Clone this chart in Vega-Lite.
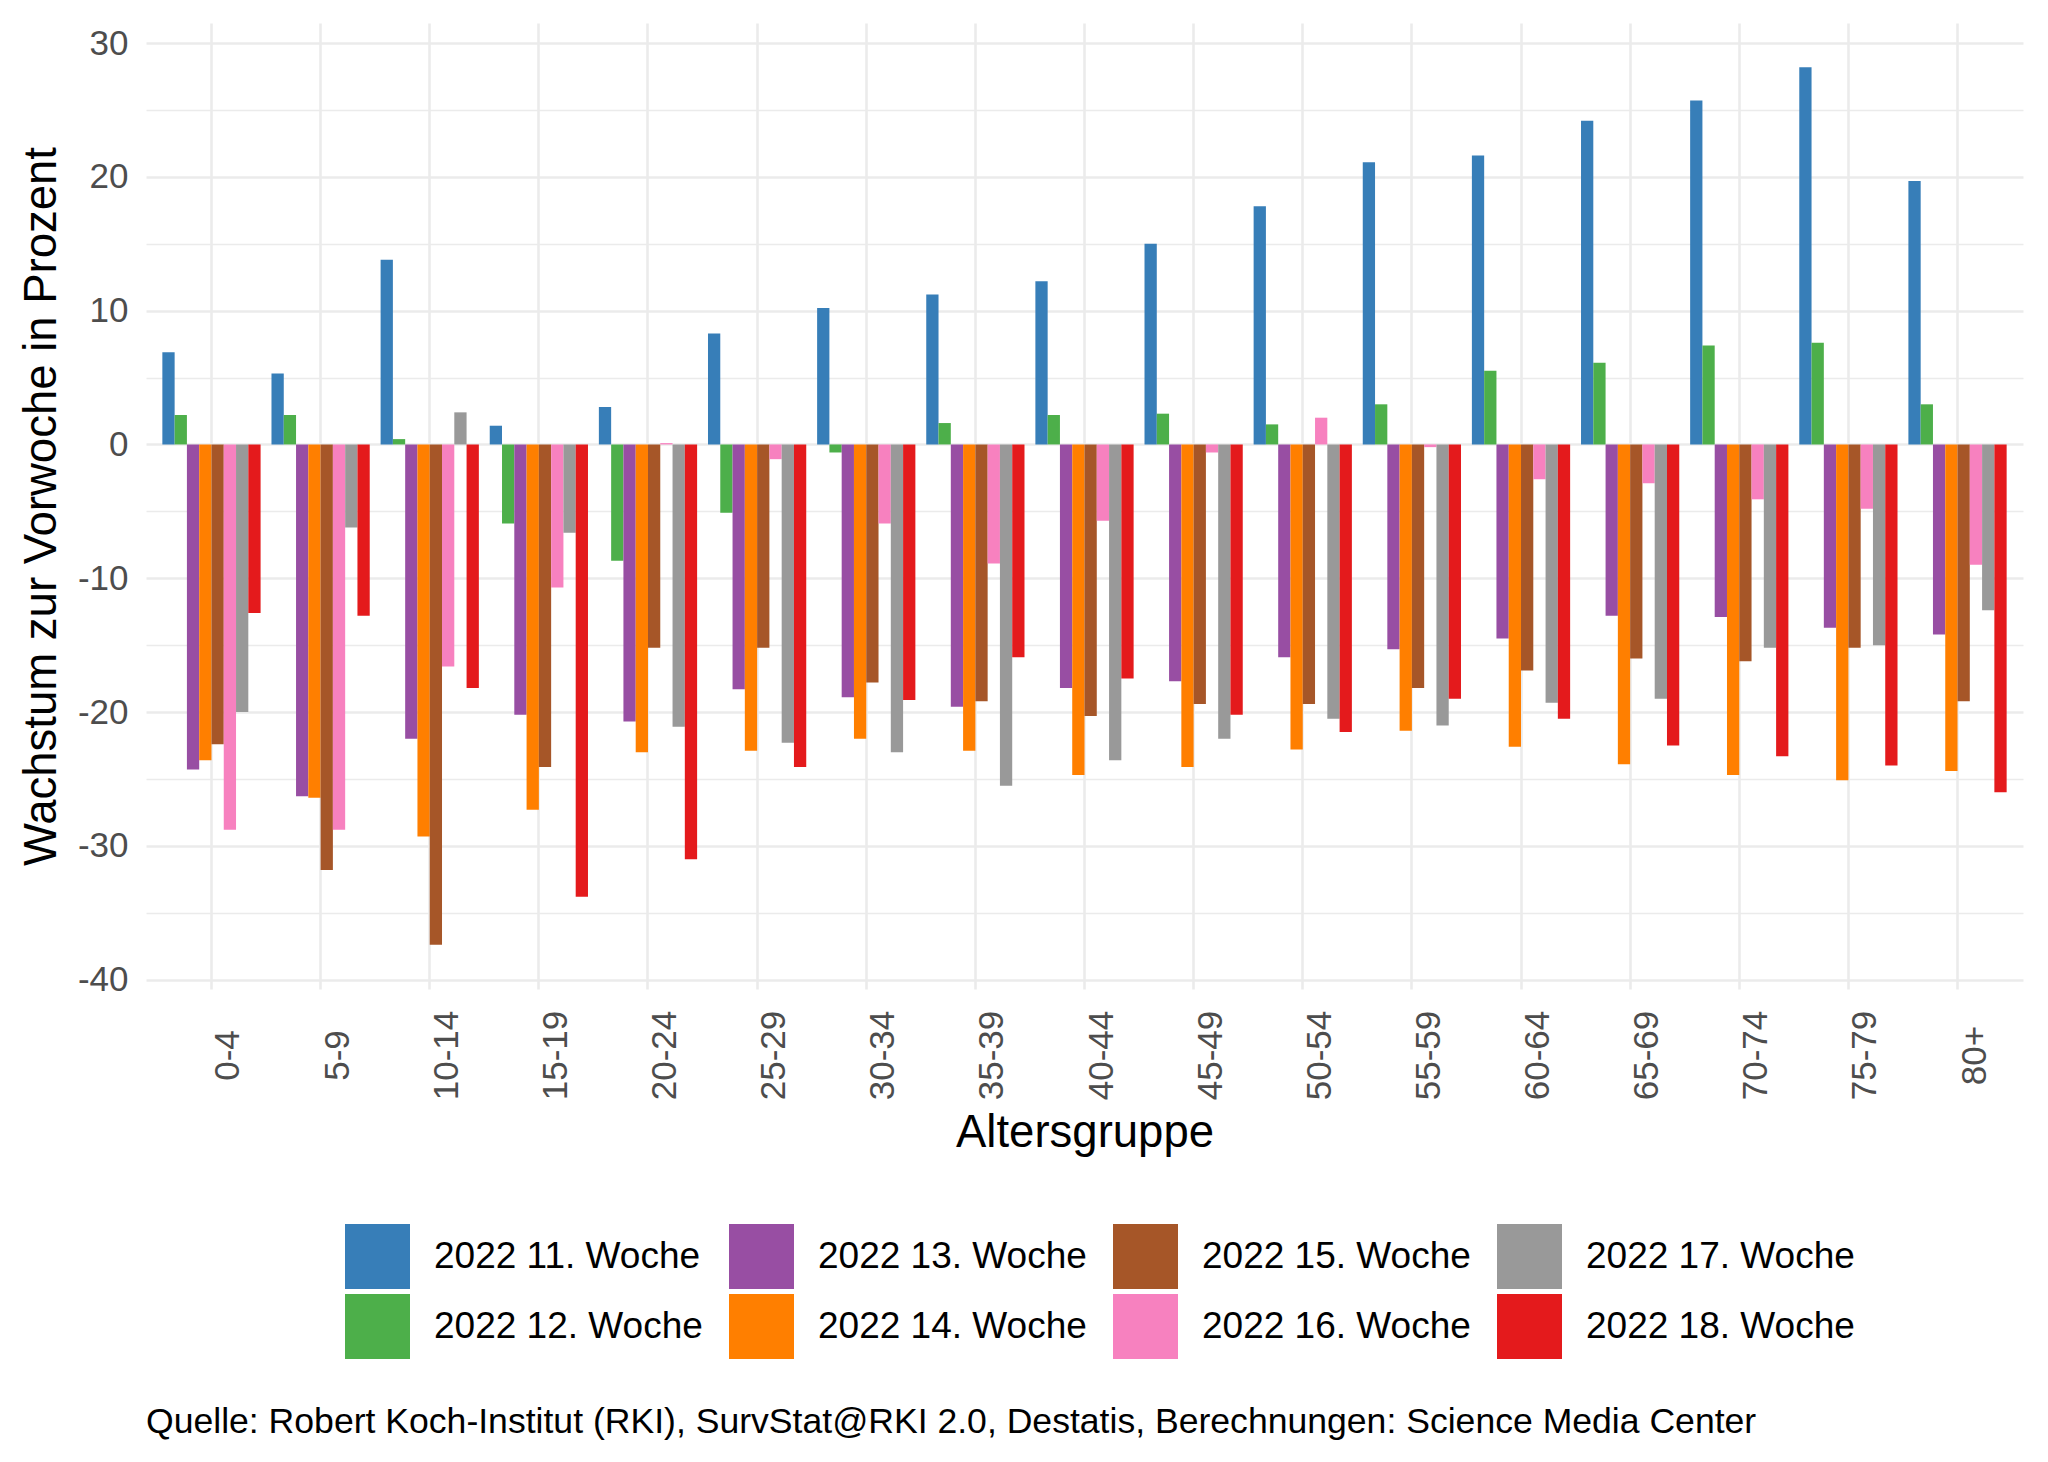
{
  "$schema": "https://vega.github.io/schema/vega-lite/v6.json",
  "width": 1877,
  "height": 966,
  "autosize": {"type": "none"},
  "padding": {"left": 146, "top": 23, "right": 25, "bottom": 473},
  "background": "white",
  "title": {
    "text": "Quelle: Robert Koch-Institut (RKI), SurvStat@RKI 2.0, Destatis, Berechnungen: Science Media Center",
    "orient": "bottom",
    "anchor": "start",
    "frame": "group",
    "fontSize": 35.6,
    "font": "Liberation Sans",
    "fontWeight": "normal",
    "color": "black",
    "offset": 46
  },
  "data": {
    "values": [
      {"g": "0-4", "w": "2022 11. Woche", "v": 6.9},
      {"g": "0-4", "w": "2022 12. Woche", "v": 2.2},
      {"g": "0-4", "w": "2022 13. Woche", "v": -24.3},
      {"g": "0-4", "w": "2022 14. Woche", "v": -23.6},
      {"g": "0-4", "w": "2022 15. Woche", "v": -22.4},
      {"g": "0-4", "w": "2022 16. Woche", "v": -28.8},
      {"g": "0-4", "w": "2022 17. Woche", "v": -20.0},
      {"g": "0-4", "w": "2022 18. Woche", "v": -12.6},
      {"g": "5-9", "w": "2022 11. Woche", "v": 5.3},
      {"g": "5-9", "w": "2022 12. Woche", "v": 2.2},
      {"g": "5-9", "w": "2022 13. Woche", "v": -26.3},
      {"g": "5-9", "w": "2022 14. Woche", "v": -26.4},
      {"g": "5-9", "w": "2022 15. Woche", "v": -31.8},
      {"g": "5-9", "w": "2022 16. Woche", "v": -28.8},
      {"g": "5-9", "w": "2022 17. Woche", "v": -6.2},
      {"g": "5-9", "w": "2022 18. Woche", "v": -12.8},
      {"g": "10-14", "w": "2022 11. Woche", "v": 13.8},
      {"g": "10-14", "w": "2022 12. Woche", "v": 0.4},
      {"g": "10-14", "w": "2022 13. Woche", "v": -22.0},
      {"g": "10-14", "w": "2022 14. Woche", "v": -29.3},
      {"g": "10-14", "w": "2022 15. Woche", "v": -37.4},
      {"g": "10-14", "w": "2022 16. Woche", "v": -16.6},
      {"g": "10-14", "w": "2022 17. Woche", "v": 2.4},
      {"g": "10-14", "w": "2022 18. Woche", "v": -18.2},
      {"g": "15-19", "w": "2022 11. Woche", "v": 1.4},
      {"g": "15-19", "w": "2022 12. Woche", "v": -5.9},
      {"g": "15-19", "w": "2022 13. Woche", "v": -20.2},
      {"g": "15-19", "w": "2022 14. Woche", "v": -27.3},
      {"g": "15-19", "w": "2022 15. Woche", "v": -24.1},
      {"g": "15-19", "w": "2022 16. Woche", "v": -10.7},
      {"g": "15-19", "w": "2022 17. Woche", "v": -6.6},
      {"g": "15-19", "w": "2022 18. Woche", "v": -33.8},
      {"g": "20-24", "w": "2022 11. Woche", "v": 2.8},
      {"g": "20-24", "w": "2022 12. Woche", "v": -8.7},
      {"g": "20-24", "w": "2022 13. Woche", "v": -20.7},
      {"g": "20-24", "w": "2022 14. Woche", "v": -23.0},
      {"g": "20-24", "w": "2022 15. Woche", "v": -15.2},
      {"g": "20-24", "w": "2022 16. Woche", "v": 0.1},
      {"g": "20-24", "w": "2022 17. Woche", "v": -21.1},
      {"g": "20-24", "w": "2022 18. Woche", "v": -31.0},
      {"g": "25-29", "w": "2022 11. Woche", "v": 8.3},
      {"g": "25-29", "w": "2022 12. Woche", "v": -5.1},
      {"g": "25-29", "w": "2022 13. Woche", "v": -18.3},
      {"g": "25-29", "w": "2022 14. Woche", "v": -22.9},
      {"g": "25-29", "w": "2022 15. Woche", "v": -15.2},
      {"g": "25-29", "w": "2022 16. Woche", "v": -1.1},
      {"g": "25-29", "w": "2022 17. Woche", "v": -22.3},
      {"g": "25-29", "w": "2022 18. Woche", "v": -24.1},
      {"g": "30-34", "w": "2022 11. Woche", "v": 10.2},
      {"g": "30-34", "w": "2022 12. Woche", "v": -0.6},
      {"g": "30-34", "w": "2022 13. Woche", "v": -18.9},
      {"g": "30-34", "w": "2022 14. Woche", "v": -22.0},
      {"g": "30-34", "w": "2022 15. Woche", "v": -17.8},
      {"g": "30-34", "w": "2022 16. Woche", "v": -5.9},
      {"g": "30-34", "w": "2022 17. Woche", "v": -23.0},
      {"g": "30-34", "w": "2022 18. Woche", "v": -19.1},
      {"g": "35-39", "w": "2022 11. Woche", "v": 11.2},
      {"g": "35-39", "w": "2022 12. Woche", "v": 1.6},
      {"g": "35-39", "w": "2022 13. Woche", "v": -19.6},
      {"g": "35-39", "w": "2022 14. Woche", "v": -22.9},
      {"g": "35-39", "w": "2022 15. Woche", "v": -19.2},
      {"g": "35-39", "w": "2022 16. Woche", "v": -8.9},
      {"g": "35-39", "w": "2022 17. Woche", "v": -25.5},
      {"g": "35-39", "w": "2022 18. Woche", "v": -15.9},
      {"g": "40-44", "w": "2022 11. Woche", "v": 12.2},
      {"g": "40-44", "w": "2022 12. Woche", "v": 2.2},
      {"g": "40-44", "w": "2022 13. Woche", "v": -18.2},
      {"g": "40-44", "w": "2022 14. Woche", "v": -24.7},
      {"g": "40-44", "w": "2022 15. Woche", "v": -20.3},
      {"g": "40-44", "w": "2022 16. Woche", "v": -5.7},
      {"g": "40-44", "w": "2022 17. Woche", "v": -23.6},
      {"g": "40-44", "w": "2022 18. Woche", "v": -17.5},
      {"g": "45-49", "w": "2022 11. Woche", "v": 15.0},
      {"g": "45-49", "w": "2022 12. Woche", "v": 2.3},
      {"g": "45-49", "w": "2022 13. Woche", "v": -17.7},
      {"g": "45-49", "w": "2022 14. Woche", "v": -24.1},
      {"g": "45-49", "w": "2022 15. Woche", "v": -19.4},
      {"g": "45-49", "w": "2022 16. Woche", "v": -0.6},
      {"g": "45-49", "w": "2022 17. Woche", "v": -22.0},
      {"g": "45-49", "w": "2022 18. Woche", "v": -20.2},
      {"g": "50-54", "w": "2022 11. Woche", "v": 17.8},
      {"g": "50-54", "w": "2022 12. Woche", "v": 1.5},
      {"g": "50-54", "w": "2022 13. Woche", "v": -15.9},
      {"g": "50-54", "w": "2022 14. Woche", "v": -22.8},
      {"g": "50-54", "w": "2022 15. Woche", "v": -19.4},
      {"g": "50-54", "w": "2022 16. Woche", "v": 2.0},
      {"g": "50-54", "w": "2022 17. Woche", "v": -20.5},
      {"g": "50-54", "w": "2022 18. Woche", "v": -21.5},
      {"g": "55-59", "w": "2022 11. Woche", "v": 21.1},
      {"g": "55-59", "w": "2022 12. Woche", "v": 3.0},
      {"g": "55-59", "w": "2022 13. Woche", "v": -15.3},
      {"g": "55-59", "w": "2022 14. Woche", "v": -21.4},
      {"g": "55-59", "w": "2022 15. Woche", "v": -18.2},
      {"g": "55-59", "w": "2022 16. Woche", "v": -0.2},
      {"g": "55-59", "w": "2022 17. Woche", "v": -21.0},
      {"g": "55-59", "w": "2022 18. Woche", "v": -19.0},
      {"g": "60-64", "w": "2022 11. Woche", "v": 21.6},
      {"g": "60-64", "w": "2022 12. Woche", "v": 5.5},
      {"g": "60-64", "w": "2022 13. Woche", "v": -14.5},
      {"g": "60-64", "w": "2022 14. Woche", "v": -22.6},
      {"g": "60-64", "w": "2022 15. Woche", "v": -16.9},
      {"g": "60-64", "w": "2022 16. Woche", "v": -2.6},
      {"g": "60-64", "w": "2022 17. Woche", "v": -19.3},
      {"g": "60-64", "w": "2022 18. Woche", "v": -20.5},
      {"g": "65-69", "w": "2022 11. Woche", "v": 24.2},
      {"g": "65-69", "w": "2022 12. Woche", "v": 6.1},
      {"g": "65-69", "w": "2022 13. Woche", "v": -12.8},
      {"g": "65-69", "w": "2022 14. Woche", "v": -23.9},
      {"g": "65-69", "w": "2022 15. Woche", "v": -16.0},
      {"g": "65-69", "w": "2022 16. Woche", "v": -2.9},
      {"g": "65-69", "w": "2022 17. Woche", "v": -19.0},
      {"g": "65-69", "w": "2022 18. Woche", "v": -22.5},
      {"g": "70-74", "w": "2022 11. Woche", "v": 25.7},
      {"g": "70-74", "w": "2022 12. Woche", "v": 7.4},
      {"g": "70-74", "w": "2022 13. Woche", "v": -12.9},
      {"g": "70-74", "w": "2022 14. Woche", "v": -24.7},
      {"g": "70-74", "w": "2022 15. Woche", "v": -16.2},
      {"g": "70-74", "w": "2022 16. Woche", "v": -4.1},
      {"g": "70-74", "w": "2022 17. Woche", "v": -15.2},
      {"g": "70-74", "w": "2022 18. Woche", "v": -23.3},
      {"g": "75-79", "w": "2022 11. Woche", "v": 28.2},
      {"g": "75-79", "w": "2022 12. Woche", "v": 7.6},
      {"g": "75-79", "w": "2022 13. Woche", "v": -13.7},
      {"g": "75-79", "w": "2022 14. Woche", "v": -25.1},
      {"g": "75-79", "w": "2022 15. Woche", "v": -15.2},
      {"g": "75-79", "w": "2022 16. Woche", "v": -4.8},
      {"g": "75-79", "w": "2022 17. Woche", "v": -15.0},
      {"g": "75-79", "w": "2022 18. Woche", "v": -24.0},
      {"g": "80+", "w": "2022 11. Woche", "v": 19.7},
      {"g": "80+", "w": "2022 12. Woche", "v": 3.0},
      {"g": "80+", "w": "2022 13. Woche", "v": -14.2},
      {"g": "80+", "w": "2022 14. Woche", "v": -24.4},
      {"g": "80+", "w": "2022 15. Woche", "v": -19.2},
      {"g": "80+", "w": "2022 16. Woche", "v": -9.0},
      {"g": "80+", "w": "2022 17. Woche", "v": -12.4},
      {"g": "80+", "w": "2022 18. Woche", "v": -26.0}
    ]
  },
  "mark": {"type": "bar", "strokeWidth": 0},
  "encoding": {
    "x": {
      "field": "g",
      "type": "nominal",
      "sort": ["0-4", "5-9", "10-14", "15-19", "20-24", "25-29", "30-34", "35-39", "40-44", "45-49", "50-54", "55-59", "60-64", "65-69", "70-74", "75-79", "80+"],
      "scale": {"paddingInner": 0, "paddingOuter": 0.1},
      "axis": {
        "title": "Altersgruppe",
        "titleFontSize": 45.5,
        "titleFont": "Liberation Sans",
        "titleFontWeight": "normal",
        "titleColor": "black",
        "titlePadding": 11,
        "labelAngle": -90,
        "labelAlign": "center",
        "labelBaseline": "top",
        "labelFontSize": 35,
        "labelFont": "Liberation Sans",
        "labelColor": "#4D4D4D",
        "labelPadding": 66,
        "labelOverlap": false,
        "labelFlush": false,
        "ticks": false,
        "tickSize": 0,
        "domain": false,
        "grid": true,
        "gridColor": "#EBEBEB",
        "gridWidth": 2.6
      }
    },
    "xOffset": {
      "field": "w",
      "type": "nominal",
      "sort": ["2022 11. Woche", "2022 12. Woche", "2022 13. Woche", "2022 14. Woche", "2022 15. Woche", "2022 16. Woche", "2022 17. Woche", "2022 18. Woche"],
      "scale": {"paddingInner": 0, "paddingOuter": 0.443}
    },
    "y": {
      "field": "v",
      "type": "quantitative",
      "scale": {"domain": [-40.7, 31.5], "nice": false, "zero": false},
      "axis": {
        "title": "Wachstum zur Vorwoche in Prozent",
        "titleFontSize": 45.5,
        "titleFont": "Liberation Sans",
        "titleFontWeight": "normal",
        "titleColor": "black",
        "titlePadding": 12,
        "values": [-40, -35, -30, -25, -20, -15, -10, -5, 0, 5, 10, 15, 20, 25, 30],
        "labelExpr": "datum.value % 10 === 0 ? '' + datum.value : ''",
        "labelFontSize": 35,
        "labelFont": "Liberation Sans",
        "labelColor": "#4D4D4D",
        "labelPadding": 18,
        "ticks": false,
        "tickSize": 0,
        "domain": false,
        "grid": true,
        "gridColor": "#EBEBEB",
        "gridWidth": {"condition": {"test": "datum.value % 10 === 0", "value": 2.6}, "value": 1.3}
      }
    },
    "color": {
      "field": "w",
      "type": "nominal",
      "scale": {
        "domain": ["2022 11. Woche", "2022 13. Woche", "2022 15. Woche", "2022 17. Woche", "2022 12. Woche", "2022 14. Woche", "2022 16. Woche", "2022 18. Woche"],
        "range": ["#377EB8", "#984EA3", "#A65628", "#999999", "#4DAF4A", "#FF7F00", "#F781BF", "#E41A1C"]
      },
      "legend": {
        "title": null,
        "orient": "none",
        "legendX": 199,
        "legendY": 1201,
        "direction": "horizontal",
        "columns": 4,
        "symbolType": "square",
        "symbolSize": 4225,
        "symbolStrokeWidth": 0,
        "symbolOpacity": 1,
        "labelFontSize": 37,
        "labelFont": "Liberation Sans",
        "labelColor": "black",
        "labelOffset": 24,
        "columnPadding": 26,
        "rowPadding": 5,
        "labelLimit": 0
      }
    }
  },
  "config": {
    "view": {"stroke": null},
    "font": "Liberation Sans"
  }
}
